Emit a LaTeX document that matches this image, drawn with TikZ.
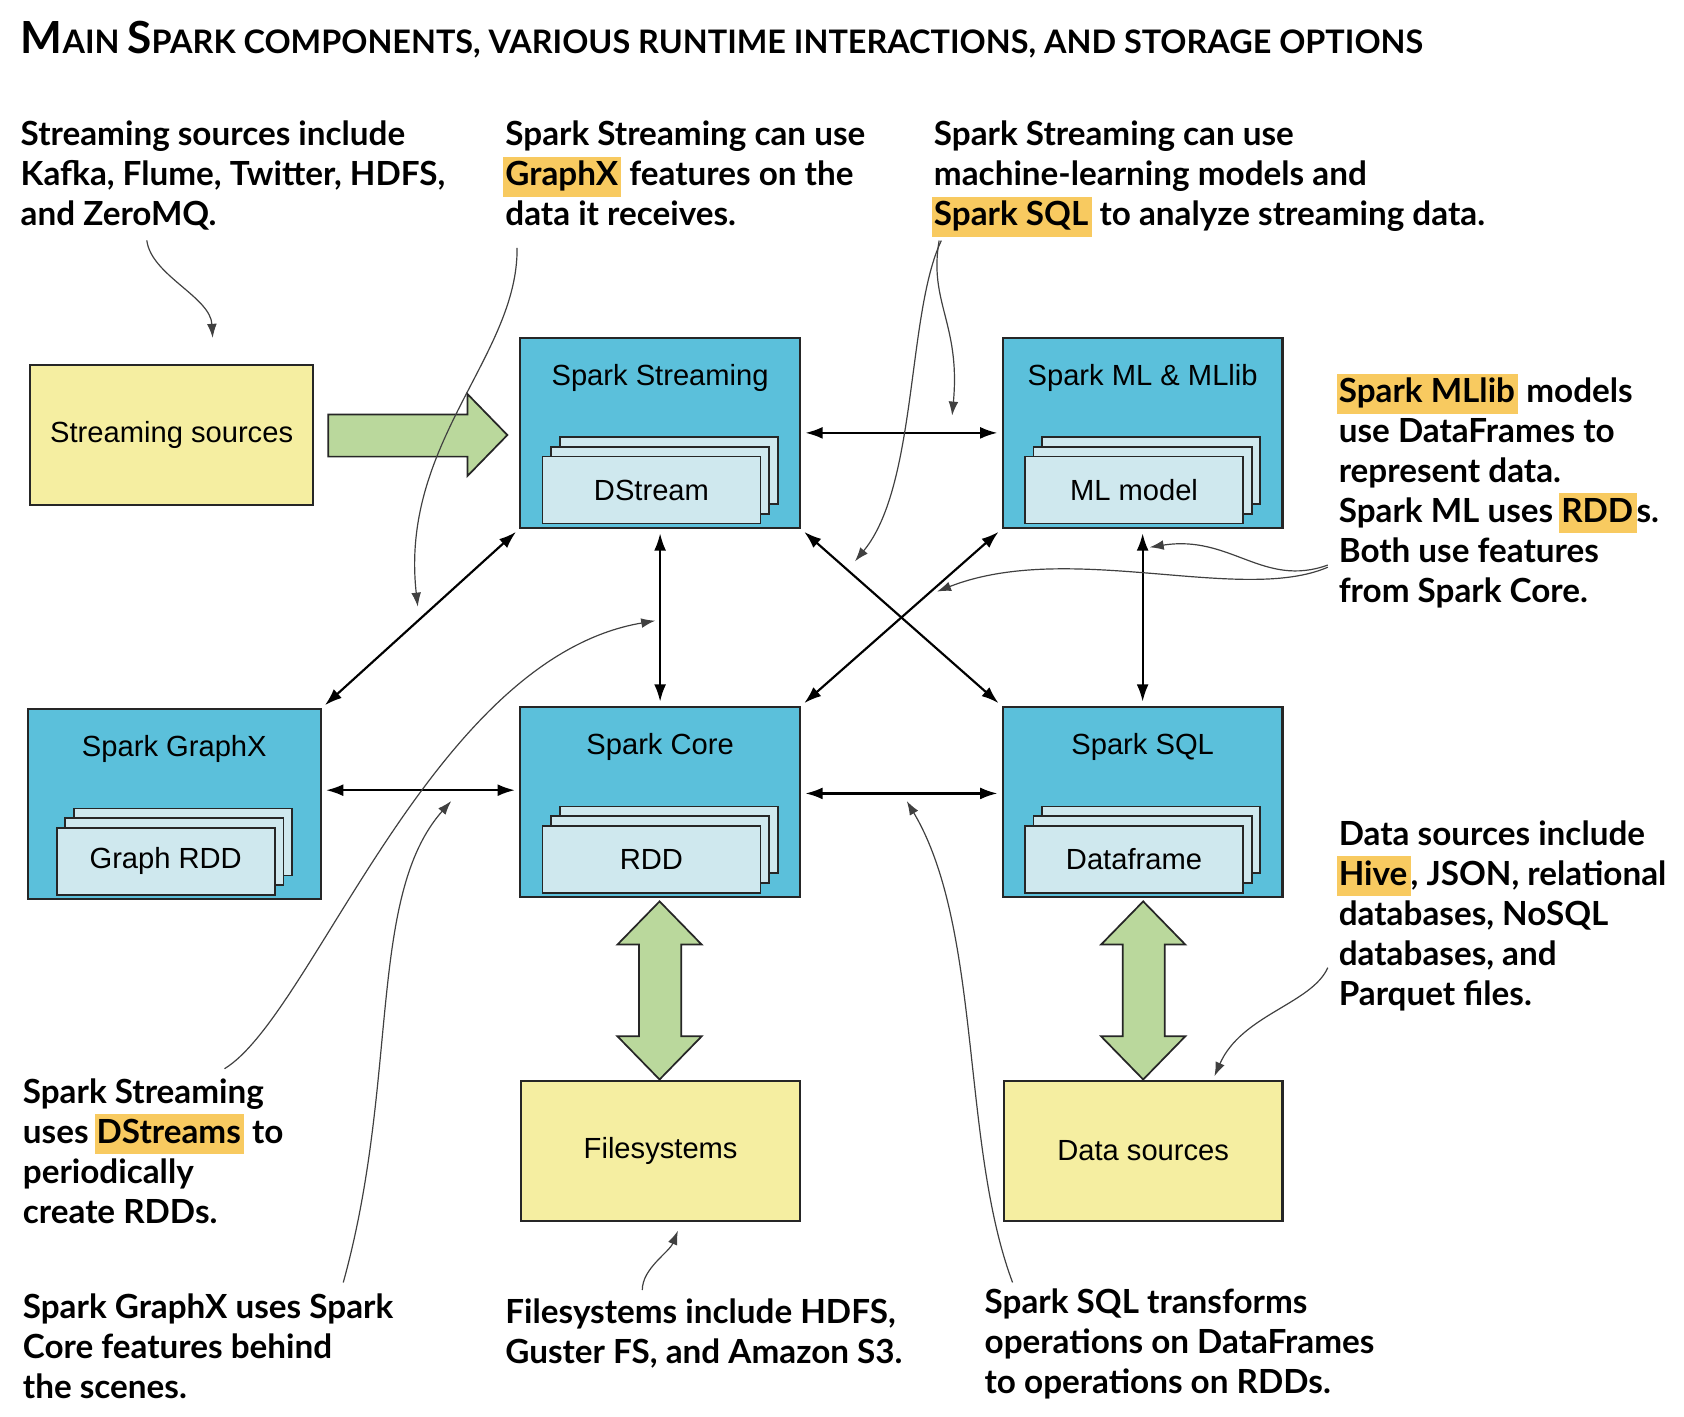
\documentclass[tikz,border=0pt]{standalone}
\usepackage{fontspec}
\setmainfont{Liberation Sans}
\newfontfamily\notefont{Lato}
\usetikzlibrary{positioning,calc,arrows.meta}

\definecolor{sparkblue}{HTML}{5BC0DB}
\definecolor{cardblue}{HTML}{CFE8EE}
\definecolor{storeyellow}{HTML}{F5EEA1}
\definecolor{flowgreen}{HTML}{BAD89C}
\definecolor{hlorange}{HTML}{F8CA60}

% orange marker behind a word
\newcommand{\hlword}[1]{\kern-2pt\smash{\setlength{\fboxsep}{0pt}\colorbox{hlorange}{\kern2pt\rule[-10pt]{0pt}{37pt}#1\kern3pt}}}
% fake small caps for the title
\newcommand{\titlecaps}[2]{{\fontsize{41}{44}\selectfont #1}{\fontsize{30}{34}\selectfont #2}}

\begin{document}
\begin{tikzpicture}[x=1pt,y=-1pt,
  component/.style={draw=black!85, line width=2pt, fill=sparkblue, minimum width=259pt, minimum height=176pt},
  store/.style={draw=black!85, line width=2pt, fill=storeyellow, minimum width=258pt, minimum height=130pt, font=\fontsize{27}{32}\selectfont},
  card/.style={draw=black!85, line width=1.6pt, fill=cardblue, minimum width=202pt, minimum height=62pt, font=\fontsize{27}{32}\selectfont},
  compname/.style={font=\fontsize{27}{32}\selectfont},
  note/.style={font=\notefont\bfseries\fontsize{30.8}{37}\selectfont, align=left, anchor=north west, inner sep=0pt},
  link/.style={line width=2pt, {Latex[length=16pt,width=11pt]}-{Latex[length=16pt,width=11pt]}, shorten <=4pt, shorten >=4pt},
  pointer/.style={line width=1.1pt, draw=black!75, -{Latex[length=13pt,width=9pt]}},
  bigarrow/.style={draw=black!85, line width=1.6pt, fill=flowgreen, line join=miter}]

\useasboundingbox[fill=white] (0,0) rectangle (1560,1312);

%% Title
\node[anchor=base west, inner sep=0pt, font=\notefont\bfseries\fontsize{30}{34}\selectfont] (title) at (19,50)
  {\titlecaps{M}{AIN} \titlecaps{S}{PARK COMPONENTS, VARIOUS RUNTIME INTERACTIONS, AND STORAGE OPTIONS}};

%% Spark components
\node[component] (stream) at (611.5,401) {};
\node[component] (ml) at (1058.5,401) {};
\node[component, minimum width=271pt] (graphx) at (161.5,745) {};
\node[component] (core) at (611.5,743) {};
\node[component] (sql) at (1058.5,743) {};

\foreach \comp/\name in {stream/Spark Streaming, ml/Spark ML \& MLlib, graphx/Spark GraphX, core/Spark Core, sql/Spark SQL}
  \node[compname] (\comp-title) at ([yshift=-38pt]\comp.north) {\name};

% stacked cards
\foreach \comp/\item in {stream/DStream, ml/ML model, graphx/Graph RDD, core/RDD, sql/Dataframe} {
  \node[card] (\comp-card3) at ([xshift=8pt,yshift=54pt]\comp.south) {};
  \node[card] (\comp-card2) at ([xshift=0pt,yshift=45pt]\comp.south) {};
  \node[card] (\comp-card) at ([xshift=-8pt,yshift=36pt]\comp.south) {\item};
}

%% Sources and storage
\node[store, minimum width=262pt] (src) at (159,403) {Streaming sources};
\node[store] (fs) at (612,1066) {Filesystems};
\node[store] (ds) at (1059,1066) {Data sources};

%% Green flow arrows
\draw[bigarrow] (304,384) -- (433,384) -- (433,365) -- (470,403) -- (433,441) -- (433,423) -- (304,423) -- cycle;
\draw[bigarrow] (611,835) -- (650,875) -- (631,875) -- (631,960) -- (650,960) -- (611,1000)
  -- (572,960) -- (592,960) -- (592,875) -- (572,875) -- cycle;
\draw[bigarrow] (1059,835) -- (1098,875) -- (1079,875) -- (1079,960) -- (1098,960) -- (1059,1000)
  -- (1020,960) -- (1040,960) -- (1040,875) -- (1020,875) -- cycle;

%% Runtime interactions
\draw[link] (stream) -- (ml);
\draw[link] (stream) -- (core);
\draw[link] (ml) -- (sql);
\draw[link] ([yshift=13pt]graphx.east) -- ([yshift=11pt]core.west);
\draw[link] ([yshift=8pt]core.east) -- ([yshift=8pt]sql.west);
\draw[link] (stream.south west) -- (graphx.north east);
\draw[link] (stream.south east) -- (sql.north west);
\draw[link] (ml.south west) -- (core.north east);

%% Annotations
\node[note] (n1) at (19,112) {Streaming sources include\\Kafka, Flume, Twitter, HDFS,\\and ZeroMQ.};
\node[note] (n2) at (468,112) {Spark Streaming can use\\\hlword{GraphX} features on the\\data it receives.};
\node[note] (n3) at (865,112) {Spark Streaming can use\\machine-learning models and\\\hlword{Spark SQL} to analyze streaming data.};
\node[note] (n4) at (1240,350) {\hlword{Spark MLlib} models\\use DataFrames to\\represent data.\\Spark ML uses \hlword{RDD}s.\\Both use features\\from Spark Core.};
\node[note] (n5) at (1240,760) {Data sources include\\\hlword{Hive}, JSON, relational\\databases, NoSQL\\databases, and\\Parquet files.};
\node[note] (n6) at (21,999) {Spark Streaming\\uses \hlword{DStreams} to\\periodically\\create RDDs.};
\node[note] (n7) at (21,1198) {Spark GraphX uses Spark\\Core features behind\\the scenes.};
\node[note] (n8) at (468,1203) {Filesystems include HDFS,\\Guster FS, and Amazon S3.};
\node[note] (n9) at (912,1194) {Spark SQL transforms\\operations on DataFrames\\to operations on RDDs.};

% pointer tips
\coordinate (t1) at (197,313);
\coordinate (t2) at (387,562);
\coordinate (t3a) at (882,385);
\coordinate (t3b) at (792,520);
\coordinate (t4a) at (1065,507);
\coordinate (t4b) at (868,548);
\coordinate (t5) at (1125,997);
\coordinate (t6) at (607,575);
\coordinate (t7) at (418,742);
\coordinate (t8) at (628,1140);
\coordinate (t9) at (840,742);

\draw[pointer] ([xshift=117pt,yshift=-9pt]n1.south west) .. controls (140,255) and (195,275) .. (t1);
\draw[pointer] ([xshift=11pt,yshift=-20pt]n2.south west) .. controls (480,330) and (370,410) .. (t2);
\draw[pointer] ([xshift=5pt,yshift=-8pt]n3.south west) .. controls (860,280) and (890,300) .. (t3a);
\draw[pointer] ([xshift=7pt,yshift=-8pt]n3.south west) .. controls (840,290) and (850,450) .. (t3b);
\draw[pointer] ([xshift=-10pt,yshift=40pt]n4.south west) .. controls (1170,545) and (1140,495) .. (t4a);
\draw[pointer] ([xshift=-10pt,yshift=38pt]n4.south west) .. controls (1150,560) and (990,500) .. (t4b);
\draw[pointer] ([xshift=-10pt,yshift=40pt]n5.south west) .. controls (1215,930) and (1150,940) .. (t5);
\draw[pointer] ([xshift=187pt,yshift=9pt]n6.north west) .. controls (290,940) and (400,610) .. (t6);
\draw[pointer] ([xshift=297pt,yshift=10pt]n7.north west) .. controls (370,1000) and (340,830) .. (t7);
\draw[pointer] ([xshift=127pt,yshift=8pt]n8.north west) .. controls (595,1175) and (620,1160) .. (t8);
\draw[pointer] ([xshift=26pt,yshift=6pt]n9.north west) .. controls (890,1060) and (910,860) .. (t9);

\end{tikzpicture}
\end{document}
